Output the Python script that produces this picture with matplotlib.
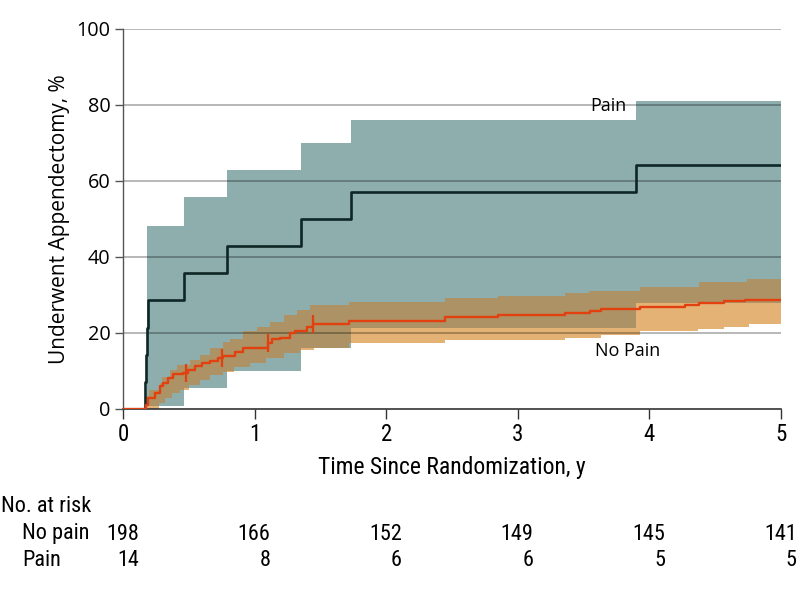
import numpy as np
import matplotlib
matplotlib.use("Agg")
import matplotlib.pyplot as plt
import matplotlib.transforms as mtransforms

# ---------------- data ----------------
pain_t = [0, 0.168, 0.175, 0.181, 0.187, 0.464, 0.788, 1.35, 1.73, 3.90]
pain_v = [0, 7.1, 14.3, 21.4, 28.6, 35.7, 42.9, 50.0, 57.1, 64.3]
pain_ci_t = [0.18, 0.464, 0.788, 1.35, 1.73, 3.90]
pain_ci_hi = [48.2, 55.9, 62.9, 70.0, 76.0, 81.0]
pain_ci_lo = [0.8, 5.4, 10.1, 16.0, 21.2, 27.8]

nopain_t = [0, 0.175, 0.19, 0.243, 0.281, 0.306, 0.344, 0.382, 0.458, 0.496,
            0.547, 0.598, 0.661, 0.724, 0.762, 0.85, 0.914, 1.10, 1.13, 1.19,
            1.27, 1.31, 1.40, 1.44, 1.72, 2.45, 2.85, 3.36, 3.55, 3.63, 3.93,
            4.27, 4.38, 4.57, 4.73]
nopain_v = [0, 1.0, 2.8, 4.1, 6.0, 6.9, 8.1, 9.1, 9.6, 10.3,
            11.3, 12.0, 12.6, 13.3, 13.9, 15.0, 16.1, 17.5, 18.3, 18.8,
            19.9, 20.6, 21.5, 22.3, 23.1, 24.1, 24.7, 25.2, 25.8, 26.2, 26.8,
            27.4, 27.9, 28.4, 28.8]
nopain_censor_t = [0.48, 0.755, 1.10, 1.445]

nopain_hi_t = [0.175, 0.20, 0.28, 0.30, 0.36, 0.41, 0.51, 0.585, 0.66, 0.76,
               0.81, 0.91, 1.02, 1.12, 1.22, 1.32, 1.42, 1.72, 2.45, 2.85,
               3.36, 3.54, 3.93, 4.38, 4.74]
nopain_hi = [3.5, 5.0, 6.8, 8.5, 10.3, 11.6, 12.9, 14.2, 16.0, 17.7,
             18.3, 20.4, 21.7, 23.0, 24.7, 26.1, 27.4, 28.2, 29.1, 29.8,
             30.4, 31.0, 32.0, 33.3, 34.1]
nopain_lo_t = [0.175, 0.27, 0.32, 0.37, 0.43, 0.50, 0.585, 0.66, 0.76, 0.84,
               0.965, 1.09, 1.22, 1.345, 1.45, 1.72, 2.45, 3.36, 3.63, 3.93,
               4.37, 4.57, 4.76]
nopain_lo = [0.0, 1.5, 2.8, 4.1, 5.0, 6.3, 7.6, 8.9, 9.8, 11.1,
             12.0, 13.3, 14.7, 15.5, 16.0, 17.3, 18.1, 18.8, 19.6, 20.5,
             21.1, 21.7, 22.3]

years = [0, 1, 2, 3, 4, 5]
risk_nopain = [198, 166, 152, 149, 145, 141]
risk_pain = [14, 8, 6, 6, 5, 5]
y_ticks = [0, 20, 40, 60, 80, 100]

# ---------------- style ----------------
TEAL = "#8EAEAE"
ORANGE = "#E5B275"
OVERLAP = "#AC9264"
PAIN_LINE = "#0E2626"
NOPAIN_LINE = "#E2400E"
NARROW = ["Roboto Condensed", "Liberation Sans Narrow", "DejaVu Sans Condensed",
          "Roboto", "DejaVu Sans"]
REG = ["Open Sans", "DejaVu Sans"]
NKW = dict(family=NARROW, fontstretch="condensed")

XMAX = 5.0


def step_eval(ts, vs, grid, before=np.nan):
    ts = np.asarray(ts, float)
    vs = np.asarray(vs, float)
    idx = np.searchsorted(ts, grid, side="right") - 1
    out = np.where(idx >= 0, vs[np.clip(idx, 0, None)], before)
    return out


fig = plt.figure(figsize=(7.98, 5.90), dpi=100)
ax = fig.add_axes([123 / 798, 1 - 409 / 590, (781 - 123) / 798, (409 - 29) / 590])

grid = np.unique(np.concatenate([pain_ci_t, nopain_hi_t, nopain_lo_t, [XMAX]]))
p_hi = step_eval(pain_ci_t, pain_ci_hi, grid)
p_lo = step_eval(pain_ci_t, pain_ci_lo, grid)
n_hi = step_eval(nopain_hi_t, nopain_hi, grid)
n_lo = step_eval(nopain_lo_t, nopain_lo, grid)

valid_p = ~np.isnan(p_hi)
valid_n = ~np.isnan(n_hi)
ax.fill_between(grid, p_lo, p_hi, where=valid_p, step="post", color=TEAL,
                lw=0, zorder=1)
ax.fill_between(grid, n_lo, n_hi, where=valid_n, step="post", color=ORANGE,
                lw=0, zorder=1.1)
ov_lo = np.maximum(p_lo, n_lo)
ov_hi = np.minimum(p_hi, n_hi)
ov_ok = valid_p & valid_n & (ov_hi > ov_lo)
ov_hi_plot = np.where(ov_ok, ov_hi, ov_lo)
ax.fill_between(grid, ov_lo, ov_hi_plot, where=valid_p & valid_n, step="post",
                color=OVERLAP, lw=0, zorder=1.2)

for yv in y_ticks[1:]:
    ax.axhline(yv, color="black", alpha=0.3, lw=1.3, zorder=2)

pt = list(pain_t) + [XMAX]
pv = list(pain_v) + [pain_v[-1]]
ax.step(pt, pv, where="post", color=PAIN_LINE, lw=1.9, zorder=4)
nt = list(nopain_t) + [XMAX]
nv = list(nopain_v) + [nopain_v[-1]]
ax.step(nt, nv, where="post", color=NOPAIN_LINE, lw=1.7, zorder=4)
cy = step_eval(nopain_t, nopain_v, np.asarray(nopain_censor_t))
ax.plot(nopain_censor_t, cy, ls="none", marker="|", ms=13, mew=1.6,
        color=NOPAIN_LINE, zorder=4)

ax.text(3.685, 79.8, "Pain", ha="center", va="center", fontsize=13,
        family=REG, zorder=5)
ax.text(3.833, 15.3, "No Pain", ha="center", va="center", fontsize=13,
        family=REG, zorder=5)

ax.set_xlim(0, XMAX)
ax.set_ylim(0, 100)
ax.set_xticks(years)
ax.set_yticks(y_ticks)
ax.set_xticklabels([str(v) for v in years], fontsize=16.5, **NKW)
ax.set_yticklabels([str(v) for v in y_ticks], family=REG, fontsize=14.3)
ax.tick_params(axis="y", direction="out", length=6, width=1, color="#555555",
               pad=3)
ax.tick_params(axis="x", direction="out", length=7, width=1, color="#333333",
               pad=3)
for s in ["top", "right"]:
    ax.spines[s].set_visible(False)
ax.spines["left"].set_color("#555555")
ax.spines["left"].set_linewidth(1.0)
ax.spines["bottom"].set_color("#333333")
ax.spines["bottom"].set_linewidth(1.2)
ax.set_axisbelow(False)

ax.set_ylabel("Underwent Appendectomy, %", family=REG, fontsize=15,
              labelpad=5)
ax.set_xlabel("Time Since Randomization, y", fontsize=17, labelpad=7, **NKW)

blend = mtransforms.blended_transform_factory(ax.transData, fig.transFigure)
fig.text(1 / 798, 1 - 506 / 590, "No. at risk", fontsize=16,
         ha="left", va="center", **NKW)
fig.text(22 / 798, 1 - 534 / 590, "No pain", fontsize=16,
         ha="left", va="center", **NKW)
fig.text(22 / 798, 1 - 561 / 590, "Pain", fontsize=16,
         ha="left", va="center", **NKW)
for t, a, b in zip(years, risk_nopain, risk_pain):
    ax.annotate(str(a), xy=(t, 1 - 534 / 590), xycoords=blend,
                xytext=(11.3, 0), textcoords="offset points", ha="right",
                va="center", fontsize=16, annotation_clip=False, **NKW)
    ax.annotate(str(b), xy=(t, 1 - 561 / 590), xycoords=blend,
                xytext=(11.3, 0), textcoords="offset points", ha="right",
                va="center", fontsize=16, annotation_clip=False, **NKW)

fig.savefig("out.png", dpi=100)
